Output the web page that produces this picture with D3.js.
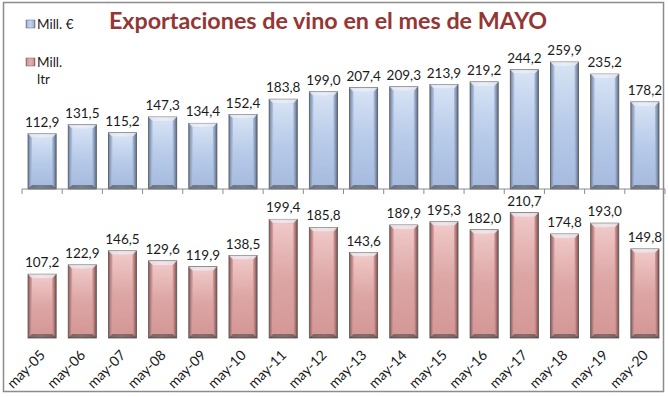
<!DOCTYPE html>
<html><head><meta charset="utf-8">
<script src="https://cdn.jsdelivr.net/npm/d3@7"></script>
<style>body{margin:0;background:#fff}svg{display:block}</style>
</head><body>
<script>
const categories = ["may-05","may-06","may-07","may-08","may-09","may-10","may-11","may-12","may-13","may-14","may-15","may-16","may-17","may-18","may-19","may-20"];
const euros = [112.9,131.5,115.2,147.3,134.4,152.4,183.8,199.0,207.4,209.3,213.9,219.2,244.2,259.9,235.2,178.2];
const litres = [107.2,122.9,146.5,129.6,119.9,138.5,199.4,185.8,143.6,189.9,195.3,182.0,210.7,174.8,193.0,149.8];
const legendLabels = [["Mill. €"],["Mill.","ltr"]];
const title = "Exportaciones de vino en el mes de MAYO";

const W=668,H=397;
const svg=d3.select("body").append("svg").attr("width",W).attr("height",H);
const font="Lato, 'Open Sans', sans-serif";
const defs=svg.append("defs");
function mkGrad(id,stops,horiz){
  const g=defs.append("linearGradient").attr("id",id);
  if(horiz) g.attr("x1",0).attr("x2",1).attr("y1",0).attr("y2",0);
  else g.attr("x1",0).attr("x2",0).attr("y1",0).attr("y2",1);
  stops.forEach(s=>g.append("stop").attr("offset",s[0]).attr("stop-color",s[1]));
}
mkGrad("blueV",[[0,"#d6e2f4"],[0.5,"#b8cbe9"],[1,"#a6bbdf"]],false);
mkGrad("blueH",[[0,"#6f7f99"],[0.12,"#a9bddf"],[0.5,"#c4d4ee"],[0.88,"#a2b5d6"],[1,"#5d6b82"]],true);
mkGrad("pinkV",[[0,"#efc8c7"],[0.5,"#dca6a5"],[1,"#d49896"]],false);
mkGrad("pinkH",[[0,"#8a5c5b"],[0.12,"#d49998"],[0.5,"#e2b0af"],[0.88,"#cf9391"],[1,"#7a4f4e"]],true);

// border
svg.append("rect").attr("x",3.5).attr("y",2.5).attr("width",660).attr("height",389).attr("fill","none").attr("stroke","#8c8c8c").attr("stroke-width",1.5);

const x=d3.scaleBand().domain(categories).range([22,665]).paddingInner(0.3).paddingOuter(0.15);
const yTop=d3.scaleLinear().domain([0,300]).range([189,189-300*0.4885]);
const yBot=d3.scaleLinear().domain([0,250]).range([338,338-250*0.595]);

function drawBars(vals,y,base,gv,gh){
  const g=svg.append("g");
  const bw=x.bandwidth();
  vals.forEach((v,i)=>{
    const x0=x(categories[i]), top=y(v), h=base-top;
    const bg=g.append("g");
    bg.append("rect").attr("x",x0).attr("y",top).attr("width",bw).attr("height",h).attr("fill",`url(#${gh})`).attr("stroke","#555").attr("stroke-width",0.8);
    const b=4;
    bg.append("rect").attr("x",x0+b).attr("y",top+b).attr("width",bw-2*b).attr("height",Math.max(0,h-2*b)).attr("fill",`url(#${gv})`);
    bg.append("path").attr("d",`M${x0},${top}L${x0+bw},${top}L${x0+bw-b},${top+b}L${x0+b},${top+b}Z`).attr("fill","#f4f7fc").attr("opacity",0.75);
    bg.append("path").attr("d",`M${x0},${base}L${x0+bw},${base}L${x0+bw-b},${base-b}L${x0+b},${base-b}Z`).attr("fill","#3a3a3a").attr("opacity",0.55);
    g.append("text").attr("x",x0+bw/2).attr("y",top-7).attr("text-anchor","middle")
      .attr("font-family",font).attr("font-size",13.5).attr("fill","#1a1a1a").text(d3.format(".1f")(v).replace(".",","));
  });
}
drawBars(euros,yTop,189,"blueV","blueH");
drawBars(litres,yBot,338,"pinkV","pinkH");

// upper axis
const ax=svg.append("g").attr("transform","translate(0,189)")
  .call(d3.axisBottom(x).tickSize(5).tickFormat(""));
ax.select(".domain").attr("stroke","#8c8c8c").attr("d","M22,0H665");
ax.selectAll(".tick").remove();
const tickPos=d3.range(categories.length+1).map(i=>x(categories[0])-x.step()*x.paddingOuter()+i*x.step());
ax.selectAll("line.t").data(tickPos).enter().append("line").attr("class","t")
  .attr("x1",d=>d).attr("x2",d=>d).attr("y1",0).attr("y2",5).attr("stroke","#8c8c8c");

// bottom category labels
const ab=svg.append("g").attr("transform","translate(0,338)").call(d3.axisBottom(x).tickSize(0));
ab.select(".domain").remove();
ab.selectAll("text").attr("font-family",font).attr("font-size",14).attr("fill","#1a1a1a")
  .attr("text-anchor","end").attr("dy",0).attr("y",0)
  .attr("transform","translate(4,18) rotate(-45)");

// title
svg.append("text").attr("x",328).attr("y",29).attr("text-anchor","middle")
  .attr("font-family",font).attr("font-weight","bold").attr("font-size",23.3).attr("fill","#943634").text(title);

// legend
const lg=[{y:24,c:"blueH",t:legendLabels[0]},{y:62,c:"pinkH",t:legendLabels[1]}];
lg.forEach(l=>{
  svg.append("rect").attr("x",26).attr("y",l.y-4).attr("width",9).attr("height",8).attr("fill",`url(#${l.c})`).attr("stroke","#666").attr("stroke-width",0.5);
  l.t.forEach((t,j)=>svg.append("text").attr("x",37).attr("y",l.y+5+j*17).attr("font-family",font).attr("font-size",13.5).attr("fill","#1a1a1a").text(t));
});
</script>
</body></html>
